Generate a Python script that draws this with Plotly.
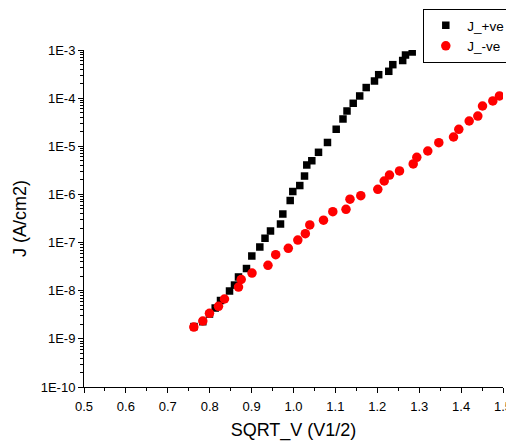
import plotly.graph_objects as go

# J_+ve (black squares)
x_pos = [0.7625, 0.7835, 0.7995, 0.8131, 0.8258, 0.8473, 0.8592, 0.8687, 0.8878, 0.9005,
         0.9196, 0.9320, 0.9451, 0.9690, 0.9745, 0.9921, 0.9983, 1.0150, 1.0263, 1.0317,
         1.0437, 1.0597, 1.0811, 1.1019, 1.1181, 1.1277, 1.1425, 1.1580, 1.1735, 1.1933,
         1.2033, 1.2274, 1.2370, 1.2606, 1.2673, 1.2833]
j_pos = [1.80e-9, 2.27e-9, 3.28e-9, 4.37e-9, 6.26e-9, 9.86e-9, 1.31e-8, 1.93e-8, 2.89e-8, 5.26e-8,
         8.09e-8, 1.23e-7, 1.74e-7, 2.43e-7, 3.92e-7, 7.48e-7, 1.15e-6, 1.53e-6, 2.41e-6, 4.09e-6,
         5.01e-6, 7.50e-6, 1.20e-5, 2.26e-5, 3.69e-5, 5.41e-5, 7.82e-5, 1.11e-4, 1.66e-4, 2.27e-4,
         3.07e-4, 3.61e-4, 4.96e-4, 6.05e-4, 7.87e-4, 9.09e-4]

# J_-ve (red circles)
x_neg = [0.7621, 0.7835, 0.7995, 0.8210, 0.8353, 0.8687, 0.8752, 0.9010, 0.9391, 0.9575,
         0.9876, 1.0103, 1.0282, 1.0389, 1.0716, 1.0938, 1.1253, 1.1348, 1.1606, 1.2012,
         1.2165, 1.2291, 1.2530, 1.2857, 1.2943, 1.3205, 1.3468, 1.3819, 1.3945, 1.4193,
         1.4399, 1.4511, 1.4757, 1.4916]
j_neg = [1.76e-9, 2.35e-9, 3.40e-9, 4.75e-9, 6.73e-9, 1.19e-8, 1.71e-8, 2.33e-8, 3.37e-8, 5.60e-8,
         7.60e-8, 1.13e-7, 1.53e-7, 2.32e-7, 2.92e-7, 4.38e-7, 4.91e-7, 7.96e-7, 9.40e-7, 1.28e-6,
         1.90e-6, 2.53e-6, 3.07e-6, 4.29e-6, 5.90e-6, 7.98e-6, 1.19e-5, 1.56e-5, 2.25e-5, 3.35e-5,
         4.25e-5, 6.87e-5, 8.73e-5, 1.11e-4]

y_tickvals = [1e-10, 1e-9, 1e-8, 1e-7, 1e-6, 1e-5, 1e-4, 1e-3]
y_ticktext = ["1E-10", "1E-9", "1E-8", "1E-7", "1E-6", "1E-5", "1E-4", "1E-3"]
x_tickvals = [0.5, 0.6, 0.7, 0.8, 0.9, 1.0, 1.1, 1.2, 1.3, 1.4, 1.5]
x_ticktext = ["0.5", "0.6", "0.7", "0.8", "0.9", "1.0", "1.1", "1.2", "1.3", "1.4", "1.5"]

FONT = "Liberation Sans, Arial, sans-serif"

fig = go.Figure()
fig.add_trace(go.Scatter(x=x_pos, y=j_pos, mode="markers", name="J_+ve",
                         marker=dict(symbol="square", size=7.5, color="black", line=dict(width=0))))
fig.add_trace(go.Scatter(x=x_neg, y=j_neg, mode="markers", name="J_-ve",
                         marker=dict(symbol="circle", size=9.5, color="#ff0000", line=dict(width=0))))

fig.update_layout(
    width=514, height=442,
    margin=dict(l=76, r=19, t=42, b=63, autoexpand=False),
    paper_bgcolor="white", plot_bgcolor="white",
    font=dict(family=FONT, size=13, color="black"),
    showlegend=True,
    legend=dict(x=0.8098, y=1.1217, xanchor="left", yanchor="top",
                bordercolor="black", borderwidth=1, bgcolor="white",
                font=dict(size=13.5, family=FONT), itemwidth=33,
                tracegroupgap=0),
    xaxis=dict(range=[0.5, 1.5], tickvals=x_tickvals, ticktext=x_ticktext,
               showline=True, linecolor="black", linewidth=1, mirror=False,
               ticks="outside", ticklen=5, tickcolor="black", showgrid=False, zeroline=False,
               ticklabelstandoff=2,
               minor=dict(dtick=0.05, ticks="outside", ticklen=3, tickcolor="black", showgrid=False),
               title=dict(text="SQRT_V (V1/2)", font=dict(size=18, family=FONT), standoff=10),
               tickfont=dict(size=13, family=FONT)),
    yaxis=dict(type="log", range=[-10, -3], tickvals=y_tickvals, ticktext=y_ticktext,
               showline=True, linecolor="black", linewidth=1, mirror=False,
               ticks="outside", ticklen=5, tickcolor="black", showgrid=False, zeroline=False,
               minor=dict(dtick="D1", ticks="outside", ticklen=3, tickcolor="black", showgrid=False),
               title=dict(text="J (A/cm2)", font=dict(size=18, family=FONT), standoff=9),
               tickfont=dict(size=13, family=FONT)),
)

fig.write_html("out.html")
